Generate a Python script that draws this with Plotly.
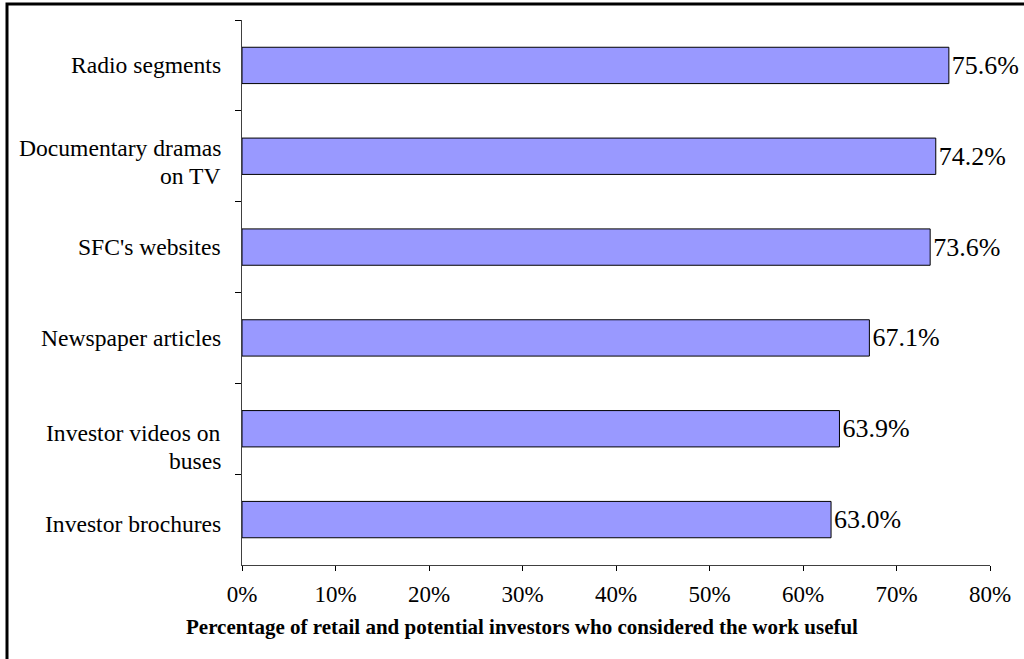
import plotly.graph_objects as go

# Survey results: share of respondents who found each channel useful
channels = [
    "Radio segments",
    "Documentary dramas<br>on TV",
    "SFC's websites",
    "Newspaper articles",
    "Investor videos on<br>buses",
    "Investor brochures",
]
useful_pct = [75.6, 74.2, 73.6, 67.1, 63.9, 63.0]
x_ticks = [0, 10, 20, 30, 40, 50, 60, 70, 80]
x_tick_labels = [f"{v}%" for v in x_ticks]
axis_title = "Percentage of retail and potential investors who considered the work useful"

SERIF = "Liberation Serif"

W, H = 1024, 659
ML, MR, MT, MB = 242, 34, 20, 94
plot_w = W - ML - MR
plot_h = H - MT - MB

# category label layout: downward nudge of each label block and line pitch (px)
LABEL_NUDGE = [0, 6, 0, 0, 18, 4]
LINE_PITCH = 28
LABEL_RIGHT_PX = 223


def px_to_paper_x(px):
    return (px - ML) / plot_w


def px_to_paper_y(py):
    return (H - MB - py) / plot_h


fig = go.Figure(
    go.Bar(
        x=useful_pct,
        y=channels,
        orientation="h",
        marker=dict(color="#9999FF", line=dict(color="black", width=1)),
        width=0.4,
        text=[f"{v:.1f}%" for v in useful_pct],
        textposition="outside",
        textfont=dict(family=SERIF, size=26, color="black"),
        cliponaxis=False,
        hoverinfo="skip",
    )
)

# category labels, one annotation per text line, right-aligned against the axis
label_annotations = []
for cat, nudge in zip(channels, LABEL_NUDGE):
    lines = cat.split("<br>")
    n = len(lines)
    for i, line in enumerate(lines):
        offset = (i - (n - 1) / 2) * LINE_PITCH + nudge
        label_annotations.append(
            dict(
                text=line,
                xref="paper",
                yref="y",
                x=px_to_paper_x(LABEL_RIGHT_PX),
                y=cat,
                xanchor="right",
                yanchor="middle",
                yshift=-offset,
                showarrow=False,
                font=dict(family=SERIF, size=23.6, color="black"),
            )
        )

fig.update_layout(
    width=W,
    height=H,
    margin=dict(l=ML, r=MR, t=MT, b=MB, pad=0),
    paper_bgcolor="white",
    plot_bgcolor="white",
    showlegend=False,
    font=dict(family=SERIF, color="black"),
    xaxis=dict(
        range=[0, 80],
        tickmode="array",
        tickvals=x_ticks,
        ticktext=x_tick_labels,
        ticks="outside",
        ticklen=5,
        tickwidth=1,
        tickcolor="black",
        showline=True,
        linecolor="#404040",
        linewidth=1,
        showgrid=False,
        zeroline=False,
        tickfont=dict(family=SERIF, size=23, color="black"),
        ticklabelstandoff=3,
    ),
    yaxis=dict(
        categoryorder="array",
        categoryarray=channels,
        autorange="reversed",
        ticks="outside",
        tickson="boundaries",
        ticklen=6,
        tickwidth=1,
        tickcolor="black",
        showline=True,
        linecolor="#404040",
        linewidth=1,
        showgrid=False,
        zeroline=False,
        showticklabels=False,
    ),
    annotations=label_annotations
    + [
        dict(
            text=f"<b>{axis_title}</b>",
            xref="paper",
            yref="paper",
            x=px_to_paper_x(522),
            y=px_to_paper_y(627),
            xanchor="center",
            yanchor="middle",
            showarrow=False,
            font=dict(family=SERIF, size=21, color="black"),
        )
    ],
    shapes=[
        dict(
            type="rect",
            xref="paper",
            yref="paper",
            x0=px_to_paper_x(7),
            x1=px_to_paper_x(W + 20),
            y0=px_to_paper_y(H + 20),
            y1=px_to_paper_y(4),
            line=dict(color="black", width=3),
            fillcolor="rgba(0,0,0,0)",
            layer="below",
        )
    ],
)

fig.write_html("out.html")
